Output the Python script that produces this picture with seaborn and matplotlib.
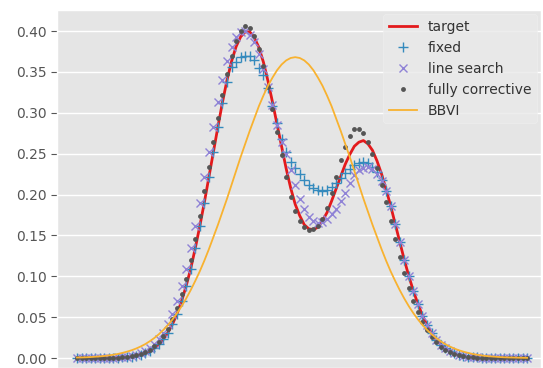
import matplotlib
matplotlib.use("Agg")
import matplotlib.pyplot as plt
import numpy as np
import seaborn as sns

# grille en x (100 points, axe non gradue dans la figure)
x = np.linspace(-10, 10, 100)

# densite cible (melange de deux gaussiennes)
target = [
    0.0, 0.0, 0.0, 0.0, 0.0, 0.0, 0.0, 0.0001, 0.0002, 0.0004,
    0.0007, 0.0011, 0.0017, 0.0026, 0.0039, 0.0058, 0.0084, 0.0120, 0.0168, 0.0230,
    0.0311, 0.0414, 0.0541, 0.0696, 0.088, 0.109, 0.134, 0.161, 0.190, 0.221,
    0.252, 0.283, 0.313, 0.340, 0.363, 0.381, 0.393, 0.399, 0.399, 0.392,
    0.380, 0.362, 0.339, 0.313, 0.286, 0.259, 0.232, 0.208, 0.188, 0.174,
    0.163, 0.158, 0.157, 0.160, 0.168, 0.178, 0.192, 0.207, 0.222, 0.237,
    0.249, 0.259, 0.264, 0.266, 0.262, 0.254, 0.241, 0.225, 0.206, 0.186,
    0.164, 0.142, 0.120, 0.100, 0.082, 0.066, 0.052, 0.040, 0.030, 0.0226,
    0.0165, 0.0118, 0.0083, 0.0057, 0.0039, 0.0026, 0.0017, 0.0011, 0.0007, 0.0004,
    0.0002, 0.0, 0.0, 0.0, 0.0, 0.0, 0.0, 0.0, 0.0, 0.0,
]

# pas fixe
fixed = [
    0.0, 0.0, 0.0, 0.0, 0.0, 0.0, 0.0, 0.0001, 0.0002, 0.0004,
    0.0007, 0.0011, 0.0017, 0.0026, 0.0039, 0.0058, 0.0084, 0.0120, 0.0168, 0.0230,
    0.0311, 0.0414, 0.0541, 0.0696, 0.088, 0.109, 0.134, 0.161, 0.190, 0.221,
    0.252, 0.283, 0.312, 0.338, 0.356, 0.362, 0.368, 0.370, 0.369, 0.365,
    0.355, 0.346, 0.330, 0.308, 0.288, 0.268, 0.252, 0.240, 0.232, 0.225,
    0.218, 0.212, 0.208, 0.205, 0.204, 0.205, 0.209, 0.214, 0.220, 0.226,
    0.231, 0.236, 0.239, 0.240, 0.238, 0.234, 0.228, 0.218, 0.204, 0.186,
    0.164, 0.142, 0.120, 0.100, 0.082, 0.066, 0.052, 0.040, 0.030, 0.0226,
    0.0165, 0.0118, 0.0083, 0.0057, 0.0039, 0.0026, 0.0017, 0.0011, 0.0007, 0.0004,
    0.0002, 0.0, 0.0, 0.0, 0.0, 0.0, 0.0, 0.0, 0.0, 0.0,
]

# line search
line_search = [
    0.0, 0.0, 0.0, 0.0, 0.0, 0.0, 0.0001, 0.0002, 0.0004, 0.0007,
    0.0011, 0.0017, 0.0026, 0.0039, 0.0058, 0.0084, 0.0120, 0.0168, 0.0230, 0.0311,
    0.0414, 0.0541, 0.0696, 0.088, 0.109, 0.134, 0.161, 0.190, 0.221, 0.252,
    0.283, 0.313, 0.340, 0.363, 0.381, 0.393, 0.399, 0.400, 0.395, 0.386,
    0.372, 0.354, 0.332, 0.309, 0.285, 0.264, 0.249, 0.230, 0.212, 0.195,
    0.182, 0.173, 0.167, 0.165, 0.166, 0.170, 0.176, 0.182, 0.192, 0.202,
    0.214, 0.224, 0.230, 0.233, 0.234, 0.231, 0.225, 0.216, 0.204, 0.186,
    0.164, 0.142, 0.120, 0.100, 0.082, 0.066, 0.052, 0.040, 0.030, 0.0226,
    0.0165, 0.0118, 0.0083, 0.0057, 0.0039, 0.0026, 0.0017, 0.0011, 0.0007, 0.0004,
    0.0002, 0.0, 0.0, 0.0, 0.0, 0.0, 0.0, 0.0, 0.0, 0.0,
]

# fully corrective
fully_corrective = [
    0.0, 0.0, 0.0, 0.0, 0.0, 0.0, 0.0, 0.0001, 0.0002, 0.0005,
    0.0009, 0.0014, 0.0021, 0.0032, 0.0048, 0.0070, 0.0100, 0.0142, 0.0197, 0.0268,
    0.0360, 0.0475, 0.0615, 0.078, 0.097, 0.120, 0.146, 0.174, 0.204, 0.234,
    0.264, 0.294, 0.322, 0.348, 0.370, 0.388, 0.400, 0.406, 0.404, 0.394,
    0.378, 0.357, 0.332, 0.304, 0.276, 0.248, 0.221, 0.197, 0.180, 0.168,
    0.160, 0.157, 0.158, 0.162, 0.170, 0.184, 0.202, 0.222, 0.242, 0.258,
    0.272, 0.280, 0.280, 0.275, 0.264, 0.250, 0.232, 0.212, 0.191, 0.168,
    0.146, 0.124, 0.104, 0.086, 0.070, 0.056, 0.044, 0.034, 0.026, 0.019,
    0.014, 0.010, 0.0070, 0.0048, 0.0032, 0.0021, 0.0014, 0.0009, 0.0005, 0.0003,
    0.0001, 0.0, 0.0, 0.0, 0.0, 0.0, 0.0, 0.0, 0.0, 0.0,
]

# BBVI (une seule gaussienne)
bbvi = [
    0.0006, 0.0007, 0.0009, 0.0012, 0.0016, 0.0020, 0.0025, 0.0032, 0.0040, 0.0050,
    0.0063, 0.0078, 0.0095, 0.0116, 0.0141, 0.0170, 0.0205, 0.0245, 0.0291, 0.0344,
    0.0404, 0.0472, 0.0548, 0.0633, 0.0727, 0.0830, 0.0942, 0.106, 0.119, 0.133,
    0.148, 0.163, 0.179, 0.195, 0.212, 0.229, 0.246, 0.262, 0.278, 0.293,
    0.308, 0.321, 0.333, 0.343, 0.352, 0.359, 0.364, 0.367, 0.368, 0.367,
    0.364, 0.359, 0.352, 0.343, 0.333, 0.321, 0.308, 0.293, 0.278, 0.262,
    0.246, 0.229, 0.212, 0.195, 0.179, 0.163, 0.148, 0.133, 0.119, 0.106,
    0.0942, 0.0830, 0.0727, 0.0633, 0.0548, 0.0472, 0.0404, 0.0344, 0.0291, 0.0245,
    0.0205, 0.0170, 0.0141, 0.0116, 0.0095, 0.0078, 0.0063, 0.0050, 0.0040, 0.0032,
    0.0025, 0.0020, 0.0016, 0.0012, 0.0009, 0.0007, 0.0006, 0.0004, 0.0003, 0.0002,
]

yticks = [0.0, 0.05, 0.10, 0.15, 0.20, 0.25, 0.30, 0.35, 0.40]

plt.style.use("ggplot")
fig = plt.figure(figsize=(5.43, 3.68), dpi=100)
ax = fig.add_axes([57 / 543, 0.0, 484 / 543, 358 / 368])

sns.lineplot(x=x, y=target, color="#E31A1C", lw=2.0, label="target", ax=ax)
sns.lineplot(x=x, y=fixed, color="#348ABD", linestyle="", marker="+",
             markersize=7, mew=1.0, mec="#348ABD", label="fixed", ax=ax)
sns.lineplot(x=x, y=line_search, color="#8F82D6", linestyle="", marker="x",
             markersize=6, mew=1.0, mec="#8F82D6", label="line search", ax=ax)
sns.lineplot(x=x, y=fully_corrective, color="#555555", linestyle="", marker="o",
             markersize=3.5, mew=0, mec="#555555", label="fully corrective", ax=ax)
sns.lineplot(x=x, y=bbvi, color="#F8B230", lw=1.3, label="BBVI", ax=ax)

ax.set_xlim(-10.89, 10.62)
ax.set_ylim(-0.0122, 0.4257)
ax.set_xticks([])
ax.set_yticks(yticks)
ax.set_yticklabels([f"{t:.2f}" for t in yticks])
ax.grid(axis="y", color="white", linewidth=1.0)
ax.grid(axis="x", visible=False)
ax.tick_params(axis="y", colors="#555555", labelsize=10, length=4)

leg = ax.legend(loc="upper right", fontsize=10, facecolor="#E9E9E9",
                edgecolor="#F0F0F0", framealpha=0.8, borderaxespad=0.3)
for t in leg.get_texts():
    t.set_color("#333333")

fig.savefig("out.png", dpi=100)
